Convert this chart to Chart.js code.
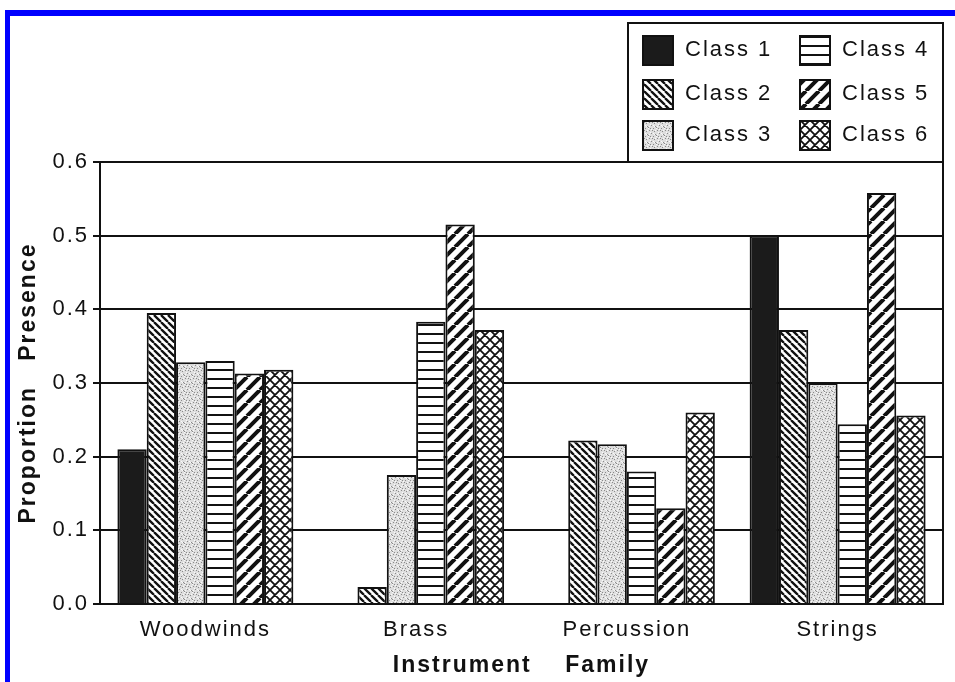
<!DOCTYPE html>
<html>
<head>
<meta charset="utf-8">
<script src="https://cdn.jsdelivr.net/npm/chart.js@4"></script>
<style>
  html, body { margin: 0; padding: 0; background: #fff; }
  #wrap { position: relative; width: 955px; height: 682px; overflow: hidden; }
  #chart { display: block; }
  #frame { position: absolute; left: 5px; top: 10px; right: -10px; bottom: -10px;
           border-top: 6px solid #0000ff; border-left: 5px solid #0000ff; pointer-events: none; }
</style>
</head>
<body>
<div id="wrap">
  <canvas id="chart" width="955" height="682"></canvas>
  <div id="frame"></div>
</div>
<script>
const categories = ['Woodwinds', 'Brass', 'Percussion', 'Strings'];
const classLabels = ['Class 1', 'Class 2', 'Class 3', 'Class 4', 'Class 5', 'Class 6'];
const class1 = [0.210, 0, 0, 0.500];
const class2 = [0.395, 0.023, 0.222, 0.372];
const class3 = [0.328, 0.175, 0.217, 0.300];
const class4 = [0.330, 0.383, 0.180, 0.244];
const class5 = [0.313, 0.515, 0.130, 0.558];
const class6 = [0.318, 0.372, 0.260, 0.256];
const yMin = 0, yMax = 0.6, yStep = 0.1;

const INK = '#111';
const FONT = "'Liberation Sans', Arial, sans-serif";

// hatch fills, like the printed figure
function makePattern(kind) {
    const c = document.createElement('canvas');
    const g = c.getContext('2d');
    if (kind === 'solid') {
        return '#1b1b1b';
    }
    if (kind === 'back') {
        const s = 7;
        c.width = c.height = s;
        g.fillStyle = '#fff'; g.fillRect(0, 0, s, s);
        g.strokeStyle = INK; g.lineWidth = 2.3;
        g.beginPath();
        for (let k = -1; k <= 1; k++) { g.moveTo(k * s, 0); g.lineTo(k * s + s, s); }
        g.stroke();
    } else if (kind === 'dots') {
        const s = 8;
        c.width = c.height = s;
        g.fillStyle = '#dedede'; g.fillRect(0, 0, s, s);
        g.fillStyle = '#8a8a8a';
        [[1, 2], [5, 0], [3, 5], [7, 6], [0, 7], [6, 3], [4, 2], [2, 0]].forEach(p => g.fillRect(p[0], p[1], 1, 1));
        g.fillStyle = '#fafafa';
        [[0, 0], [3, 1], [6, 6], [2, 4], [5, 5], [7, 2], [1, 6]].forEach(p => g.fillRect(p[0], p[1], 1, 1));
    } else if (kind === 'horiz') {
        c.width = 4; c.height = 9;
        g.fillStyle = '#fff'; g.fillRect(0, 0, 4, 9);
        g.fillStyle = INK; g.fillRect(0, 0, 4, 2);
    } else if (kind === 'fwd') {
        const s = 13;
        c.width = c.height = s;
        g.fillStyle = '#fff'; g.fillRect(0, 0, s, s);
        g.strokeStyle = INK; g.lineWidth = 4;
        g.beginPath();
        for (let k = -1; k <= 1; k++) { g.moveTo(k * s, s); g.lineTo(k * s + s, 0); }
        g.stroke();
    } else if (kind === 'cross') {
        const s = 10;
        c.width = c.height = s;
        g.fillStyle = '#fff'; g.fillRect(0, 0, s, s);
        g.strokeStyle = INK; g.lineWidth = 1.8;
        g.beginPath();
        for (let k = -1; k <= 1; k++) {
            g.moveTo(k * s, 0); g.lineTo(k * s + s, s);
            g.moveTo(k * s, s); g.lineTo(k * s + s, 0);
        }
        g.stroke();
    }
    return g.createPattern(c, 'repeat');
}

const fills = ['solid', 'back', 'dots', 'horiz', 'fwd', 'cross'].map(makePattern);
const series = [class1, class2, class3, class4, class5, class6];

const spacingPlugin = {
    id: 'spacing',
    beforeLayout(chart) { chart.ctx.letterSpacing = '2px'; },
    beforeDraw(chart) { chart.ctx.letterSpacing = '2px'; }
};

const boxLegend = {
    id: 'boxLegend',
    afterDraw(chart) {
        const ctx = chart.ctx;
        const left = 628, top = 23, right = chart.chartArea.right, bottom = chart.chartArea.top;
        ctx.save();
        ctx.letterSpacing = '2px';
        ctx.fillStyle = '#fff';
        ctx.fillRect(left, top, right - left, bottom - top);
        ctx.lineWidth = 2;
        ctx.strokeStyle = INK;
        ctx.strokeRect(left, top, right - left, bottom - top);
        const cols = [643, 800];
        const rows = [36, 80, 121];
        chart.data.datasets.forEach((ds, i) => {
            const x = cols[Math.floor(i / 3)], y = rows[i % 3];
            ctx.fillStyle = ds.backgroundColor;
            ctx.fillRect(x, y, 30, 29);
            ctx.strokeRect(x, y, 30, 29);
            ctx.fillStyle = INK;
            ctx.font = '22px ' + FONT;
            ctx.textBaseline = 'middle';
            ctx.textAlign = 'left';
            ctx.fillText(ds.label, x + 42, y + 14);
        });
        ctx.restore();
    }
};

new Chart(document.getElementById('chart'), {
    type: 'bar',
    data: {
        labels: categories,
        datasets: series.map((vals, i) => ({
            label: classLabels[i],
            data: vals,
            backgroundColor: fills[i],
            borderColor: INK,
            borderWidth: 2,
            categoryPercentage: 0.835,
            barPercentage: 1,
            yAxisID: 'y'
        }))
    },
    options: {
        responsive: false,
        animation: false,
        layout: { padding: { top: 162, right: 12, left: 0, bottom: 0 } },
        font: { family: FONT },
        plugins: { legend: { display: false }, tooltip: { enabled: false } },
        scales: {
            x: {
                grid: { display: false, drawTicks: false },
                border: { display: true, color: INK, width: 2 },
                ticks: { color: INK, padding: 13, font: { family: FONT, size: 22 } },
                title: { display: true, text: 'Instrument    Family', color: INK,
                         font: { family: FONT, size: 23, weight: 'bold' }, padding: { top: 0, bottom: 3 } },
                afterFit: s => { s.height = 78; }
            },
            y: {
                min: yMin, max: yMax,
                ticks: { stepSize: yStep, padding: 4, color: INK, font: { family: FONT, size: 22 },
                         callback: v => Number(v).toFixed(1) },
                grid: { color: INK, lineWidth: 2, drawTicks: true, tickLength: 7, tickColor: INK },
                border: { display: true, color: INK, width: 2 },
                title: { display: true, text: 'Proportion   Presence', color: INK,
                         font: { family: FONT, size: 23, weight: 'bold' }, padding: { top: 15, bottom: 0 } },
                afterFit: s => { s.width = 100; }
            },
            yRight: {
                position: 'right', min: yMin, max: yMax,
                ticks: { display: false },
                grid: { display: false, drawTicks: false },
                border: { display: true, color: INK, width: 2 },
                afterFit: s => { s.width = 0; }
            }
        }
    },
    plugins: [spacingPlugin, boxLegend]
});
</script>
</body>
</html>
